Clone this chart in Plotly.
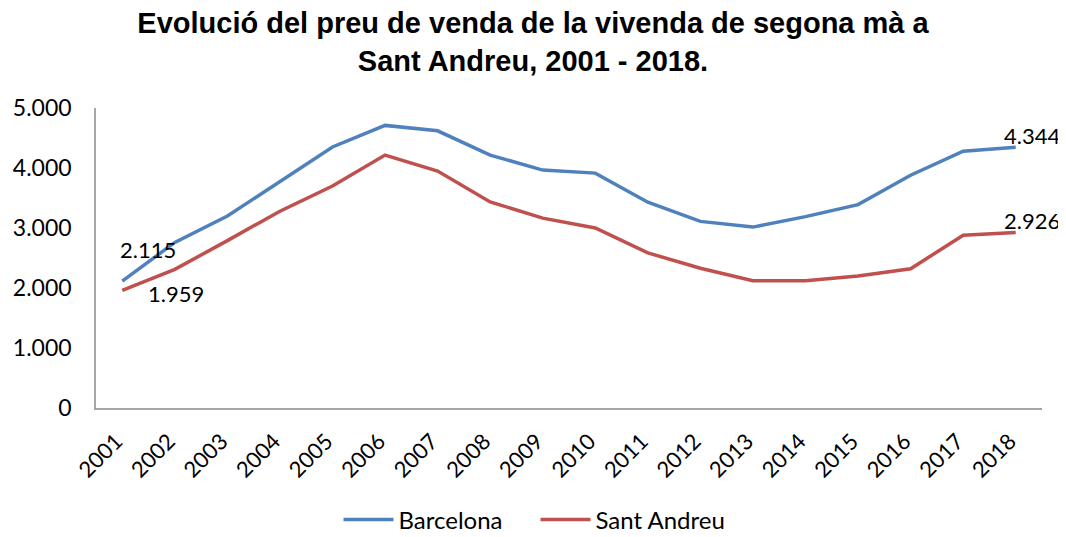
import plotly.graph_objects as go

years = [str(y) for y in range(2001, 2019)]
barcelona = [2115, 2760, 3200, 3780, 4350, 4710, 4620, 4215, 3965, 3915, 3430, 3110, 3015, 3190, 3390, 3880, 4280, 4344]
sant_andreu = [1959, 2310, 2790, 3280, 3700, 4215, 3950, 3435, 3165, 3000, 2585, 2330, 2120, 2120, 2200, 2320, 2880, 2926]

def fmt(v):
    return f"{v:,}".replace(",", ".")

blue = "#4F81BD"
red = "#C0504D"
font_fam = "Lato"

# the page body has an 8px default margin, so the figure is drawn 8px smaller
W, H = 1058, 529

fig = go.Figure()
fig.add_trace(go.Scatter(x=years, y=barcelona, mode="lines", name="Barcelona",
                         line=dict(color=blue, width=3.5)))
fig.add_trace(go.Scatter(x=years, y=sant_andreu, mode="lines", name="Sant Andreu",
                         line=dict(color=red, width=3.5)))

ann = [
    (0, barcelona[0], 26, 32),
    (0, sant_andreu[0], 54, -3),
    (len(years) - 1, barcelona[-1], 16, 12),
    (len(years) - 1, sant_andreu[-1], 16, 12),
]
annotations = []
for xi, y, xs, ys in ann:
    annotations.append(dict(x=xi, y=y, xref="x", yref="y", text=fmt(y), showarrow=False,
                            xshift=xs, yshift=ys,
                            font=dict(family=font_fam, size=22, color="black")))

fig.update_layout(
    width=W, height=H,
    margin=dict(l=88, r=24, t=100, b=129, autoexpand=False),
    paper_bgcolor="white", plot_bgcolor="white",
    separators=",.",
    annotations=annotations,
    title=dict(text="<b>Evolució del preu de venda de la vivenda de segona mà a<br>Sant Andreu, 2001 - 2018.</b>",
               x=525 / W, xref="container", xanchor="center", y=1 - 25 / H, yref="container", yanchor="middle",
               font=dict(family="Liberation Sans", size=29, color="black")),
    xaxis=dict(type="category", range=[-0.5, 17.5], showgrid=False, showline=True,
               linecolor="#A6A6A6", linewidth=1.5, tickangle=-45, ticks="", automargin=False,
               ticklabelstandoff=10, ticklabelshift=-6,
               tickfont=dict(family=font_fam, size=22, color="black")),
    yaxis=dict(range=[0, 5000], dtick=1000, tickformat=",d", showgrid=False, showline=True,
               linecolor="#A6A6A6", linewidth=1.5, ticks="", zeroline=False, automargin=False,
               ticklabelstandoff=18,
               tickfont=dict(family=font_fam, size=23, color="black")),
    legend=dict(orientation="h", x=(527.5 - 88) / 946, xanchor="center", y=-112 / 300, yanchor="middle",
                font=dict(family=font_fam, size=24, color="black"), itemwidth=50,
                entrywidth=132, entrywidthmode="pixels"),
    showlegend=True,
)

fig.write_html("out.html")
